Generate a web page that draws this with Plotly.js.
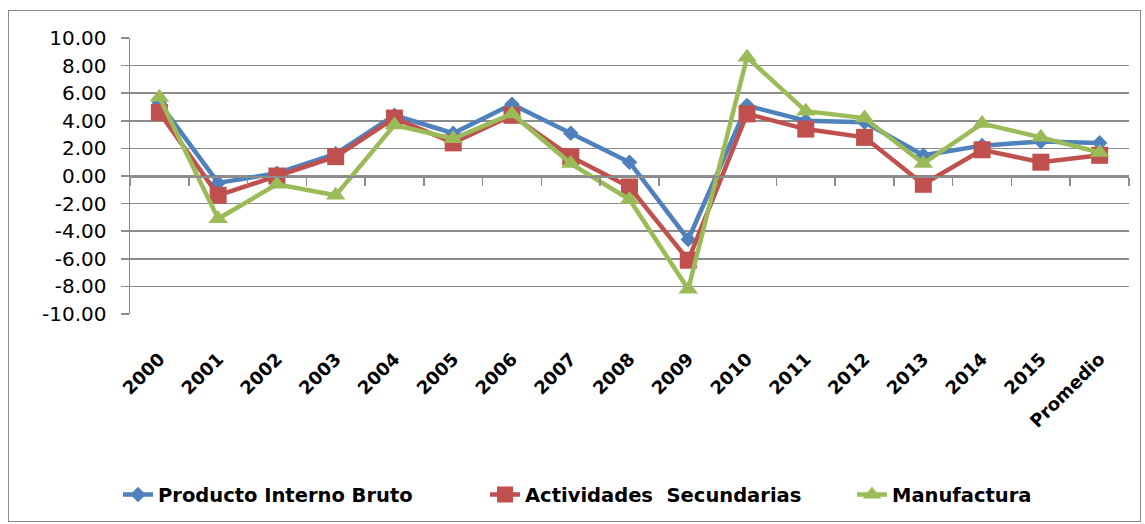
<!DOCTYPE html>
<html>
<head>
<meta charset="utf-8">
<script src="https://cdn.plot.ly/plotly-3.0.1.min.js"></script>
<style>
  html, body { margin: 0; padding: 0; background: #fff; }
  #wrap { position: relative; width: 1145px; height: 524px; }
  #chart { position: absolute; left: 0; top: 0; width: 1145px; height: 524px; }
  #frame { position: absolute; left: 8px; top: 10px; width: 1131px; height: 510px;
           border: 1px solid #8c8c8c; pointer-events: none; }
</style>
</head>
<body>
<div id="wrap">
  <div id="chart"></div>
  <div id="frame"></div>
</div>
<script>
const categories = ["2000","2001","2002","2003","2004","2005","2006","2007","2008",
                    "2009","2010","2011","2012","2013","2014","2015","Promedio"];
const pib = [5.3, -0.5, 0.2, 1.6, 4.4, 3.1, 5.2, 3.1, 1.0, -4.6, 5.1, 4.0, 3.9, 1.5, 2.2, 2.5, 2.4];
const secundarias = [4.6, -1.4, 0.0, 1.4, 4.2, 2.4, 4.4, 1.4, -0.8, -6.1, 4.5, 3.4, 2.8, -0.6, 1.9, 1.0, 1.5];
const manufactura = [5.7, -3.1, -0.6, -1.4, 3.7, 2.7, 4.5, 0.9, -1.7, -8.2, 8.6, 4.7, 4.2, 0.9, 3.8, 2.8, 1.7];
const yTicks = [-10, -8, -6, -4, -2, 0, 2, 4, 6, 8, 10];

const names = ["Producto Interno Bruto", "Actividades  Secundarias", "Manufactura"];
const colors = ["#4F81BD", "#C0504D", "#9BBB59"];
const xRange = [-0.5, categories.length - 0.5];

const traces = [
  { x: categories, y: pib, name: names[0], type: "scatter", mode: "lines+markers",
    line: { color: colors[0], width: 4.5 },
    marker: { symbol: "diamond", size: 12, color: colors[0] } },
  { x: categories, y: secundarias, name: names[1], type: "scatter", mode: "lines+markers",
    line: { color: colors[1], width: 4.5 },
    marker: { symbol: "square", size: 17, color: colors[1] } },
  { x: categories, y: manufactura, name: names[2], type: "scatter", mode: "lines+markers",
    line: { color: colors[2], width: 4.5 },
    marker: { symbol: "triangle-up", size: 17, color: colors[2] } },
  // helper trace to carry the category axis drawn on the zero line
  { x: categories, y: pib, xaxis: "x2", yaxis: "y", type: "scatter", mode: "lines",
    line: { width: 0 }, opacity: 0, showlegend: false, hoverinfo: "skip" }
];

const layout = {
  width: 1145, height: 524,
  margin: { l: 130, r: 16, t: 38, b: 210, autoexpand: false },
  paper_bgcolor: "#ffffff", plot_bgcolor: "#ffffff",
  font: { family: "DejaVu Sans", color: "#000000" },
  showlegend: true,
  legend: {
    orientation: "h", x: -0.012, xanchor: "left", y: -0.655, yanchor: "middle",
    font: { family: "DejaVu Sans", size: 19.5, color: "#000000", weight: "bold" },
    entrywidth: 322, entrywidthmode: "pixels", traceorder: "normal"
  },
  xaxis: {
    type: "category", categoryorder: "array", categoryarray: categories,
    range: xRange, autorange: false,
    showgrid: false, showline: false, zeroline: false, ticks: "",
    tickangle: -45, ticklabelstandoff: 30, automargin: false,
    tickfont: { family: "DejaVu Sans", size: 18, color: "#000000", weight: "bold" }
  },
  xaxis2: {
    type: "category", categoryorder: "array", categoryarray: categories,
    range: xRange, autorange: false,
    overlaying: "x", anchor: "free", position: 0.5, side: "bottom",
    showgrid: false, showline: true, linecolor: "#8c8c8c", linewidth: 1.5,
    ticks: "outside", tickson: "boundaries", ticklen: 8, tickcolor: "#8c8c8c", tickwidth: 1.5,
    showticklabels: false, zeroline: false
  },
  yaxis: {
    range: [-10, 10], autorange: false, tickmode: "array", tickvals: yTicks,
    ticktext: yTicks.map(v => v.toFixed(2)),
    showgrid: true, gridcolor: "#8c8c8c", gridwidth: 1.5,
    zeroline: false, automargin: false,
    showline: true, linecolor: "#8c8c8c", linewidth: 1.5,
    ticks: "outside", ticklen: 8, tickcolor: "#8c8c8c", tickwidth: 1.5,
    ticklabelstandoff: 10,
    tickfont: { family: "DejaVu Sans", size: 20, color: "#000000" }
  }
};

Plotly.newPlot("chart", traces, layout, { displayModeBar: false, staticPlot: true });
</script>
</body>
</html>
